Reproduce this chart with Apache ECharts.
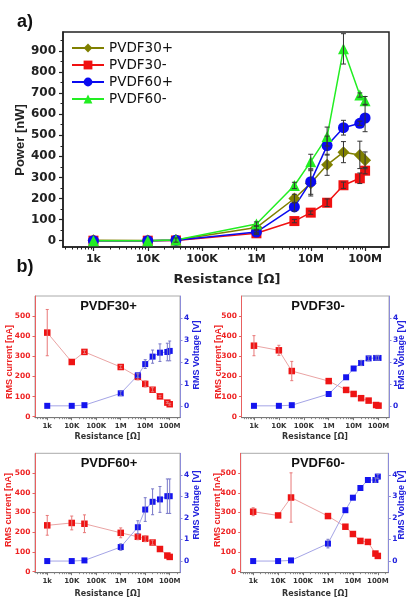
<!DOCTYPE html>
<html><head><meta charset="utf-8">
<script src="https://cdn.jsdelivr.net/npm/echarts@6/dist/echarts.min.js"></script>
<style>html,body{margin:0;padding:0;background:#fff}#c{width:406px;height:597px}</style>
</head><body><div id="c"></div>
<script>
// ---------- data ----------
const resistance = [1e3, 1e4, 3.3e4, 1e6, 5e6, 1e7, 2e7, 4e7, 8e7, 1e8];
const tickValues = [1e3, 1e4, 1e5, 1e6, 1e7, 1e8];
const tickLabels = ['1k', '10K', '100K', '1M', '10M', '100M'];
const decades = [1e2, 1e3, 1e4, 1e5, 1e6, 1e7, 1e8];
const minorMult = [2, 3, 4, 5, 6, 7, 8, 9];
const powerTicks = [0, 100, 200, 300, 400, 500, 600, 700, 800, 900];
const powerMinorTicks = [50, 150, 250, 350, 450, 550, 650, 750, 850, 950];
const currentTicks = [0, 100, 200, 300, 400, 500];
const voltageTicks = [0, 1, 2, 3, 4];

const seriesNames = ['PVDF30+', 'PVDF30-', 'PVDF60+', 'PVDF60-'];
const power30p = [2, 1, 3, 62, 200, 272, 360, 420, 407, 381];
const power30pErr = [0, 0, 10, 8, 20, 60, 50, 50, 65, 40];
const power30m = [0, 0, 1, 35, 93, 133, 180, 263, 296, 332];
const power30mErr = [0, 0, 0, 5, 8, 8, 18, 15, 25, 15];
const power60p = [0, 0, 2, 41, 160, 280, 451, 536, 557, 582];
const power60pErr = [0, 0, 0, 8, 20, 60, 45, 35, 10, 65];
const power60m = [0, 0, 3, 79, 262, 375, 494, 910, 691, 664];
const power60mErr = [0, 0, 0, 10, 15, 35, 45, 72, 10, 20];

const current30p = [418, 272, 322, 247, 198, 163, 134, 101, 70, 62];
const current30pErr = [115, 0, 8, 8, 15, 15, 10, 5, 5, 5];
const voltage30p = [0, 0, 0.03, 0.57, 1.39, 1.9, 2.24, 2.42, 2.45, 2.5];
const voltage30pErr = [0, 0, 0, 0.1, 0.1, 0.2, 0.3, 0.4, 0.4, 0.45];
const current30m = [353, 330, 227, 177, 133, 113, 92, 80, 58, 55];
const current30mErr = [50, 25, 48, 0, 0, 0, 0, 0, 0, 0];
const voltage30m = [0, 0, 0.03, 0.54, 1.3, 1.7, 1.95, 2.16, 2.18, 2.18];
const voltage30mErr = [0, 0, 0, 0, 0, 0, 0.12, 0.1, 0.1, 0.1];
const current60p = [235, 247, 243, 197, 177, 167, 148, 115, 82, 75];
const current60pErr = [50, 35, 45, 25, 15, 15, 12, 0, 0, 0];
const voltage60p = [0, 0, 0.03, 0.65, 1.57, 2.39, 2.75, 2.86, 3.01, 3.01];
const voltage60pErr = [0, 0, 0, 0.15, 0.3, 0.55, 0.6, 0.6, 0.8, 0.8];
const current60m = [304, 285, 376, 282, 228, 191, 156, 151, 92, 80];
const current60mErr = [20, 0, 125, 0, 0, 0, 0, 0, 0, 0];
const voltage60m = [0, 0, 0.03, 0.81, 2.36, 2.94, 3.39, 3.76, 3.76, 3.92];
const voltage60mErr = [0, 0, 0, 0.2, 0, 0, 0, 0, 0.1, 0.1];

// ---------- helpers ----------
const minorTickValues = decades.flatMap(d => minorMult.map(m => m * d));
const pairs = (ys) => resistance.map((r, i) => [r, ys[i]]);
const errData = (ys, es) => resistance.map((r, i) => [r, ys[i] - es[i], ys[i] + es[i]]).filter((d, i) => es[i] > 0);
function labelOf(v) {
  const k = Math.round(Math.log10(v)) - 3;
  return tickLabels[k] || '';
}
function errRender(cap, color) {
  return function (params, api) {
    const x = api.value(0);
    const lo = api.coord([x, api.value(1)]);
    const hi = api.coord([x, api.value(2)]);
    const st = { stroke: color, lineWidth: 1 };
    return { type: 'group', children: [
      { type: 'line', shape: { x1: lo[0], y1: lo[1], x2: hi[0], y2: hi[1] }, style: st },
      { type: 'line', shape: { x1: lo[0] - cap, y1: lo[1], x2: lo[0] + cap, y2: lo[1] }, style: st },
      { type: 'line', shape: { x1: hi[0] - cap, y1: hi[1], x2: hi[0] + cap, y2: hi[1] }, style: st }
    ] };
  };
}
function errSeries(ys, es, xi, yi, cap, color) {
  return { type: 'custom', coordinateSystem: 'cartesian2d', xAxisIndex: xi, yAxisIndex: yi,
    renderItem: errRender(cap, color), data: errData(ys, es), encode: { x: 0, y: [1, 2] }, z: 5, silent: true, clip: false };
}

// ---------- layout ----------
const gridA = { left: 63, top: 32, width: 326, height: 215 };
const subGrids = [
  { left: 35, top: 296, width: 145, height: 121.7 },
  { left: 241.5, top: 296, width: 147.5, height: 121.7 },
  { left: 35, top: 453.3, width: 145, height: 119.4 },
  { left: 240.7, top: 453.3, width: 147.6, height: 119.4 }
];
const subTitles = ['PVDF30+', 'PVDF30-', 'PVDF60+', 'PVDF60-'];
const subCurrent = [current30p, current30m, current60p, current60m];
const subCurrentErr = [current30pErr, current30mErr, current60pErr, current60mErr];
const subVoltage = [voltage30p, voltage30m, voltage60p, voltage60m];
const subVoltageErr = [voltage30pErr, voltage30mErr, voltage60pErr, voltage60mErr];

const grids = [];
const xAxes = [];
const yAxes = [];
const series = [];
const graphics = [];

// Panel a
grids.push(Object.assign({ show: true, borderColor: '#222', borderWidth: 1.5, backgroundColor: 'transparent' }, gridA));
const aXmin = Math.pow(10, 2.44), aXmax = Math.pow(10, 8.44);
xAxes.push({ type: 'log', gridIndex: 0, min: aXmin, max: aXmax, position: 'bottom',
  axisLine: { onZero: false, lineStyle: { color: '#222', width: 1.5 } },
  axisTick: { customValues: tickValues, length: 4, inside: false, lineStyle: { color: '#222', width: 1.2 } },
  axisLabel: { customValues: tickValues, formatter: labelOf, margin: 7, fontFamily: 'DejaVu Sans', fontWeight: 'bold', fontSize: 11, color: '#222' },
  splitLine: { show: false } });
xAxes.push({ type: 'log', gridIndex: 0, min: aXmin, max: aXmax, position: 'bottom', offset: 0,
  axisLine: { show: false, onZero: false },
  axisTick: { customValues: minorTickValues, length: 2.5, lineStyle: { color: '#222', width: 1 } },
  axisLabel: { show: false }, splitLine: { show: false } });
yAxes.push({ type: 'value', gridIndex: 0, min: -30, max: 990, position: 'left',
  axisLine: { show: true, onZero: false, lineStyle: { color: '#222', width: 1.5 } },
  axisTick: { show: true, customValues: powerTicks, length: 4, lineStyle: { color: '#222', width: 1.2 } },
  axisLabel: { customValues: powerTicks, margin: 7, fontFamily: 'DejaVu Sans', fontWeight: 'bold', fontSize: 12, color: '#222' },
  splitLine: { show: false } });
yAxes.push({ type: 'value', gridIndex: 0, min: -30, max: 990, position: 'left', offset: 0,
  axisLine: { show: false, onZero: false },
  axisTick: { show: true, customValues: powerMinorTicks, length: 2.5, lineStyle: { color: '#222', width: 1 } },
  axisLabel: { show: false }, splitLine: { show: false } });

const aColors = ['#808000', '#f01010', '#0a0af0', '#22ee22'];
const aSymbols = ['diamond', 'rect', 'circle', 'triangle'];
const aSizes = [12, 10, 11, 11];
const aData = [power30p, power30m, power60p, power60m];
const aErr = [power30pErr, power30mErr, power60pErr, power60mErr];
for (let i = 0; i < 4; i++) {
  series.push({ name: seriesNames[i], type: 'line', xAxisIndex: 0, yAxisIndex: 0, data: pairs(aData[i]),
    symbol: aSymbols[i], symbolSize: aSizes[i], showAllSymbol: true,
    lineStyle: { color: aColors[i], width: 1.5 }, itemStyle: { color: aColors[i] }, z: 3, silent: true });
}
for (let i = 0; i < 4; i++) series.push(errSeries(aData[i], aErr[i], 0, 0, 2.5, '#333'));

// Panel b subplots
const sXmin = Math.pow(10, 2.5), sXmax = Math.pow(10, 8.42);
for (let s = 0; s < 4; s++) {
  const gi = s + 1;
  grids.push(Object.assign({ show: true, borderColor: '#aaa', borderWidth: 1, backgroundColor: 'transparent' }, subGrids[s]));
  const xi = xAxes.length;
  xAxes.push({ type: 'log', gridIndex: gi, min: sXmin, max: sXmax, position: 'bottom',
    axisLine: { onZero: false, lineStyle: { color: '#777', width: 1 } },
    axisTick: { customValues: tickValues, length: 2.5, lineStyle: { color: '#777' } },
    axisLabel: { customValues: tickValues, formatter: labelOf, margin: 4.5, fontFamily: 'DejaVu Sans', fontWeight: 'bold', fontSize: 7, color: '#333' },
    splitLine: { show: false } });
  xAxes.push({ type: 'log', gridIndex: gi, min: sXmin, max: sXmax, position: 'bottom', offset: 0,
    axisLine: { show: false, onZero: false },
    axisTick: { customValues: minorTickValues, length: 1.5, lineStyle: { color: '#888' } },
    axisLabel: { show: false }, splitLine: { show: false } });
  const yl = yAxes.length;
  yAxes.push({ type: 'value', gridIndex: gi, min: -5, max: 600, position: 'left',
    axisLine: { show: true, onZero: false, lineStyle: { color: '#e86060', width: 1 } },
    axisTick: { show: true, customValues: currentTicks, length: 2.5, lineStyle: { color: '#e86060' } },
    axisLabel: { customValues: currentTicks, margin: 4.5, fontFamily: 'DejaVu Sans', fontWeight: 'bold', fontSize: 7.5, color: '#ee2222' },
    splitLine: { show: false } });
  const yr = yAxes.length;
  yAxes.push({ type: 'value', gridIndex: gi, min: -0.54, max: 5.0, position: 'right',
    axisLine: { show: true, onZero: false, lineStyle: { color: '#8c8cd8', width: 1 } },
    axisTick: { show: true, customValues: voltageTicks, length: 2.5, lineStyle: { color: '#8c8cd8' } },
    axisLabel: { customValues: voltageTicks, margin: 4, fontFamily: 'DejaVu Sans', fontWeight: 'bold', fontSize: 7.5, color: '#2222dd' },
    splitLine: { show: false } });
  series.push({ type: 'line', xAxisIndex: xi, yAxisIndex: yl, data: pairs(subCurrent[s]),
    symbol: 'rect', symbolSize: 6.5, lineStyle: { color: '#eaa4a4', width: 1 }, itemStyle: { color: '#ee1414' }, z: 3, silent: true });
  series.push({ type: 'line', xAxisIndex: xi, yAxisIndex: yr, data: pairs(subVoltage[s]),
    symbol: 'rect', symbolSize: 6, lineStyle: { color: '#a4a4e6', width: 1 }, itemStyle: { color: '#1414ee' }, z: 3, silent: true });
  series.push(errSeries(subCurrent[s], subCurrentErr[s], xi, yl, 1.5, '#e87878'));
  series.push(errSeries(subVoltage[s], subVoltageErr[s], xi, yr, 1.5, '#7878c8'));
}

// ---------- texts ----------
const txt = (x, y, text, o) => Object.assign({ type: 'text', x: x, y: y, silent: true,
  style: Object.assign({ text: text, align: 'center', verticalAlign: 'middle', fill: '#111' }, o.style) }, o.el || {});
graphics.push(txt(25, 22.5, 'a)', { style: { font: 'bold 18px "Liberation Sans"' } }));
graphics.push(txt(25, 267, 'b)', { style: { font: 'bold 18px "Liberation Sans"' } }));
graphics.push(txt(20.5, 140, 'Power [nW]', { style: { font: 'bold 13px "Liberation Sans"', fill: '#222' }, el: { rotation: Math.PI / 2 } }));
graphics.push(txt(227, 280, 'Resistance [Ω]', { style: { font: 'bold 13px "DejaVu Sans"', fill: '#222' } }));
const subTitlePos = [[108.5, 306.7], [318, 306.7], [109, 463.3], [318, 463.3]];
const subXTitlePos = [[107.5, 437.3], [315, 437], [107.5, 594], [315, 594]];
const subLeftTitlePos = [[9.3, 362], [218.3, 362], [8.5, 510], [217.5, 510]];
const subRightTitlePos = [[197, 355], [401.5, 355], [197, 505], [401.5, 505]];
for (let s = 0; s < 4; s++) {
  graphics.push(txt(subTitlePos[s][0], subTitlePos[s][1], subTitles[s], { style: { font: 'bold 13px "Liberation Sans"', fill: '#111' } }));
  graphics.push(txt(subXTitlePos[s][0], subXTitlePos[s][1], 'Resistance [Ω]', { style: { font: 'bold 8px "DejaVu Sans"', fill: '#333' } }));
  graphics.push(txt(subLeftTitlePos[s][0], subLeftTitlePos[s][1], 'RMS current [nA]', { style: { font: 'bold 9px "Liberation Sans"', fill: '#ee2222' }, el: { rotation: Math.PI / 2 } }));
  graphics.push(txt(subRightTitlePos[s][0], subRightTitlePos[s][1], 'RMS Voltage [V]', { style: { font: 'bold 9px "Liberation Sans"', fill: '#2222dd' }, el: { rotation: Math.PI / 2 } }));
}

const chart = echarts.init(document.getElementById('c'), null, { renderer: 'canvas' });
chart.setOption({
  animation: false,
  backgroundColor: '#fff',
  grid: grids,
  xAxis: xAxes,
  yAxis: yAxes,
  legend: { data: seriesNames, orient: 'vertical', left: 66, top: 36, itemWidth: 32, itemHeight: 11, itemGap: 3,
    selectedMode: false, textStyle: { fontFamily: 'DejaVu Sans', fontSize: 13.5, color: '#111' } },
  series: series,
  graphic: graphics
});
</script></body></html>
